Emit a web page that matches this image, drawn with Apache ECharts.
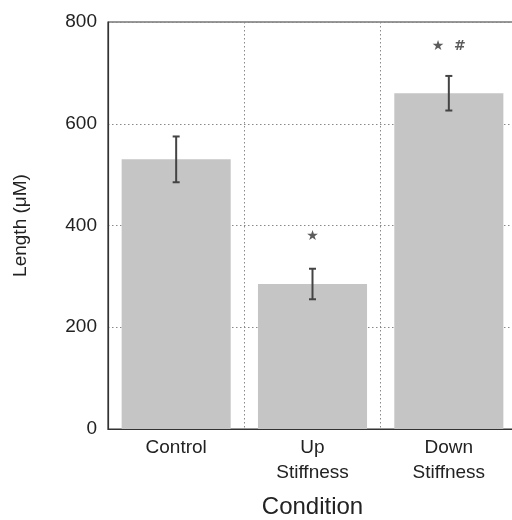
<!DOCTYPE html>
<html>
<head>
<meta charset="utf-8">
<script src="https://cdn.jsdelivr.net/npm/echarts@6/dist/echarts.min.js"></script>
<style>
html,body{margin:0;padding:0;background:#fff;overflow:hidden;}
#chart{width:512px;height:520px;}
</style>
</head>
<body>
<div id="chart"></div>
<script>
var categories = ['Control', 'Up\nStiffness', 'Down\nStiffness'];
var lengths = [530, 285, 660];
var errors = [45, 30, 34];
var yTicks = [0, 200, 400, 600, 800];
var annotationText = ['', '\u2605', '\u2605  #'];
var annotationY = [null, 378, 752];

var chart = echarts.init(document.getElementById('chart'));
var font = 'Liberation Sans, Arial, sans-serif';

var errData = categories.map(function (c, i) { return [i, lengths[i] - errors[i], lengths[i] + errors[i]]; });
var annData = [];
categories.forEach(function (c, i) { if (annotationText[i]) annData.push({ value: [i, annotationY[i]], label: { formatter: annotationText[i] } }); });

chart.setOption({
  backgroundColor: '#fff',
  animation: false,
  grid: { left: 108, right: -5, top: 22, bottom: 91, outerBoundsMode: 'none', containLabel: false,
    show: true, borderColor: '#333', borderWidth: 1.2, backgroundColor: 'transparent' },
  xAxis: {
    type: 'category',
    data: categories,
    axisLine: { lineStyle: { color: '#333', width: 1.2 } },
    axisTick: { show: false },
    axisLabel: { color: '#222', fontSize: 19, fontFamily: font, lineHeight: 25, margin: 6 },
    splitLine: { show: true, lineStyle: { color: '#888', type: [1.5, 2.5], width: 1 } },
    name: 'Condition',
    nameLocation: 'middle',
    nameGap: 66,
    nameTextStyle: { color: '#222', fontSize: 24, fontFamily: font }
  },
  yAxis: {
    type: 'value',
    min: 0, max: 800, interval: 200,
    axisLine: { show: true, lineStyle: { color: '#333', width: 1.2 } },
    axisTick: { show: false },
    axisLabel: { color: '#222', fontSize: 19, fontFamily: font, margin: 11,
      formatter: function (v) { return yTicks.indexOf(v) >= 0 ? String(v) : ''; } },
    splitLine: { show: true, lineStyle: { color: '#888', type: [1.5, 2.5], width: 1 } },
    name: 'Length (\u03bcM)',
    nameLocation: 'middle',
    nameGap: 78,
    nameTextStyle: { color: '#222', fontSize: 19, fontFamily: font }
  },
  series: [
    {
      type: 'bar',
      data: lengths,
      barWidth: '80%',
      itemStyle: { color: '#c5c5c5' },
      z: 2
    },
    {
      type: 'custom',
      data: errData,
      z: 5,
      renderItem: function (params, api) {
        var x = api.value(0);
        var lo = api.coord([x, api.value(1)]);
        var hi = api.coord([x, api.value(2)]);
        var cap = 3.5;
        var st = { stroke: '#444', lineWidth: 2 };
        return {
          type: 'group',
          children: [
            { type: 'line', shape: { x1: lo[0], y1: lo[1], x2: hi[0], y2: hi[1] }, style: st },
            { type: 'line', shape: { x1: lo[0] - cap, y1: lo[1], x2: lo[0] + cap, y2: lo[1] }, style: st },
            { type: 'line', shape: { x1: hi[0] - cap, y1: hi[1], x2: hi[0] + cap, y2: hi[1] }, style: st }
          ]
        };
      }
    },
    {
      type: 'scatter',
      data: annData,
      symbolSize: 0,
      z: 6,
      label: { show: true, position: 'inside', color: '#333', fontSize: 14, fontFamily: 'DejaVu Sans, sans-serif', fontWeight: 'bold' }
    }
  ]
});
</script>
</body>
</html>
